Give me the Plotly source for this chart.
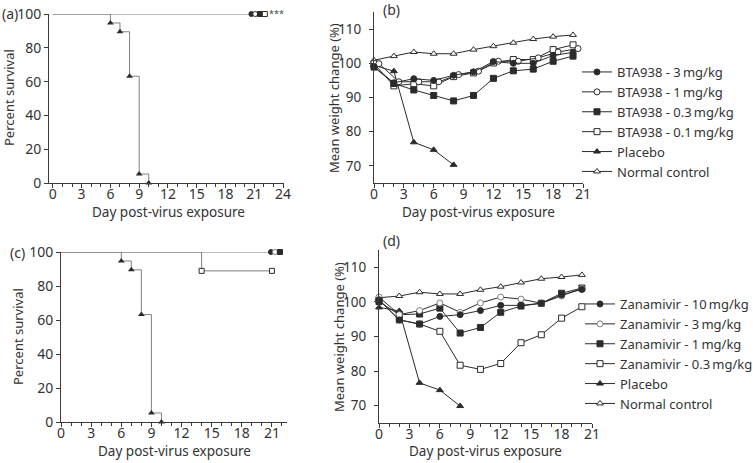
import plotly.graph_objects as go

W, H = 753, 463
FONT = "Noto Sans"

# ---- survival data (panels a and c) ----
placebo_days = [0, 6, 7, 8, 9, 10]
placebo_surv = [100, 94.7, 89.5, 63.2, 5.3, 0]

# BTA938 groups all 100% survival, markers nudged apart at the end
bta_end_days = [20.7, 21.1, 21.6, 22.1]
bta_end_surv = [100, 100, 100, 100]

# zanamivir groups
zan_end_days = [20.9, 21.3, 21.8]
zan_end_surv = [100, 100, 100]
zan03_days = [0, 14, 21.0]
zan03_surv = [100, 88.9, 88.9]

# ---- weight data (panels b and d) ----
days = [0, 2, 4, 6, 8, 10, 12, 14, 16, 18, 20]
days_offset = [d + 0.5 for d in days]
placebo_days_w = [0, 2, 4, 6, 8]

b_bta3 = [99.0, 94.3, 95.5, 95.0, 96.5, 97.5, 100.5, 100.0, 100.0, 102.3, 103.2]
b_bta1 = [99.9, 94.6, 94.6, 94.6, 96.7, 97.7, 100.6, 100.6, 101.6, 103.3, 104.3]
b_bta03 = [98.9, 94.1, 92.2, 90.6, 89.0, 90.6, 95.6, 97.8, 98.3, 100.6, 102.1]
b_bta01 = [99.9, 93.4, 94.0, 93.4, 96.1, 97.2, 100.1, 101.1, 101.1, 104.0, 105.4]
b_placebo = [99.4, 97.7, 76.9, 74.7, 70.3]
b_normal = [100.9, 102.1, 103.3, 102.8, 102.8, 104.0, 105.0, 106.0, 107.1, 107.8, 108.3]

d_zan10 = [100.6, 94.8, 93.6, 95.8, 96.3, 97.5, 99.0, 99.0, 99.6, 102.0, 103.6]
d_zan3 = [101.4, 96.3, 97.5, 99.7, 97.0, 99.7, 101.4, 100.8, 99.6, 101.7, 103.9]
d_zan1 = [100.1, 96.3, 96.5, 98.2, 91.0, 92.6, 97.0, 98.8, 99.6, 102.5, 104.0]
d_zan03 = [100.6, 94.8, 93.6, 91.5, 81.7, 80.5, 82.2, 88.2, 90.5, 95.3, 98.6]
d_placebo = [98.4, 97.4, 76.6, 74.5, 69.9]
d_normal = [101.2, 101.7, 102.8, 102.3, 102.3, 103.5, 104.4, 105.6, 106.7, 107.2, 107.8]

b_names = ["BTA938 - 3\u2009mg/kg", "BTA938 - 1\u2009mg/kg", "BTA938 - 0.3\u2009mg/kg",
           "BTA938 - 0.1\u2009mg/kg", "Placebo", "Normal control"]
d_names = ["Zanamivir - 10\u2009mg/kg", "Zanamivir - 3\u2009mg/kg", "Zanamivir - 1\u2009mg/kg",
           "Zanamivir - 0.3\u2009mg/kg", "Placebo", "Normal control"]

b_star_y = [106.3, 104.7, 103.1, 101.6]
d_star_y = [105.4, 103.7, 102.0, 98.2]

DARK = "#2b2b2b"
GREY = "#808080"
AXC = "#3a3a3a"

# marker styles: (symbol, fill, outline)
styles = [("circle", DARK, DARK), ("circle", "white", DARK), ("square", DARK, DARK),
          ("square", "white", DARK), ("triangle-up", DARK, DARK), ("triangle-up", "white", DARK)]


def px_x(p):
    return p / W


def px_y(p):
    return 1 - p / H


fig = go.Figure()

# ---------- panel (a) ----------
fig.add_trace(go.Scatter(x=[0, bta_end_days[-1]], y=[100, 100], mode="lines",
                         line=dict(color=GREY, width=1), xaxis="x", yaxis="y", showlegend=False))
fig.add_trace(go.Scatter(x=placebo_days, y=placebo_surv, mode="lines", line_shape="hv",
                         line=dict(color=GREY, width=1), xaxis="x", yaxis="y", showlegend=False))
fig.add_trace(go.Scatter(x=placebo_days[1:], y=placebo_surv[1:], mode="markers", cliponaxis=False,
                         marker=dict(symbol="triangle-up", size=6, color=DARK),
                         xaxis="x", yaxis="y", showlegend=False))
for i in range(4):
    sym, fill, edge = styles[i]
    fig.add_trace(go.Scatter(x=[bta_end_days[i]], y=[bta_end_surv[i]], mode="markers", cliponaxis=False,
                             marker=dict(symbol=sym, size=5, color=fill, line=dict(color=edge, width=1)),
                             xaxis="x", yaxis="y", showlegend=False))

# ---------- panel (c) ----------
fig.add_trace(go.Scatter(x=[0, zan_end_days[-1]], y=[100, 100], mode="lines",
                         line=dict(color=GREY, width=1), xaxis="x3", yaxis="y3", showlegend=False))
fig.add_trace(go.Scatter(x=zan03_days, y=zan03_surv, mode="lines", line_shape="hv",
                         line=dict(color=GREY, width=1), xaxis="x3", yaxis="y3", showlegend=False))
fig.add_trace(go.Scatter(x=zan03_days[1:], y=zan03_surv[1:], mode="markers",
                         marker=dict(symbol="square", size=5, color="white", line=dict(color=DARK, width=1)),
                         xaxis="x3", yaxis="y3", showlegend=False))
fig.add_trace(go.Scatter(x=placebo_days, y=placebo_surv, mode="lines", line_shape="hv",
                         line=dict(color=GREY, width=1), xaxis="x3", yaxis="y3", showlegend=False))
fig.add_trace(go.Scatter(x=placebo_days[1:], y=placebo_surv[1:], mode="markers", cliponaxis=False,
                         marker=dict(symbol="triangle-up", size=6, color=DARK),
                         xaxis="x3", yaxis="y3", showlegend=False))
zan_styles = [("circle", DARK, DARK), ("circle", "white", GREY), ("square", DARK, DARK)]
for i in range(3):
    sym, fill, edge = zan_styles[i]
    fig.add_trace(go.Scatter(x=[zan_end_days[i]], y=[zan_end_surv[i]], mode="markers", cliponaxis=False,
                             marker=dict(symbol=sym, size=5, color=fill, line=dict(color=edge, width=1)),
                             xaxis="x3", yaxis="y3", showlegend=False))

# ---------- panel (b) ----------
b_series = [(days, b_bta3), (days_offset, b_bta1), (days, b_bta03), (days, b_bta01),
            (placebo_days_w, b_placebo), (days, b_normal)]
order = [5, 4, 3, 2, 1, 0]
for i in order:
    xs, ys = b_series[i]
    sym, fill, edge = styles[i]
    fig.add_trace(go.Scatter(x=xs, y=ys, mode="lines+markers", name=b_names[i], cliponaxis=False,
                             line=dict(color=DARK, width=1),
                             marker=dict(symbol=sym, size=6, color=fill, line=dict(color=edge, width=1)),
                             xaxis="x2", yaxis="y2", legend="legend", legendrank=i))

# ---------- panel (d) ----------
d_styles = list(styles)
d_styles[1] = ("circle", "white", GREY)
d_series = [(days, d_zan10), (days, d_zan3), (days, d_zan1), (days, d_zan03),
            (placebo_days_w, d_placebo), (days, d_normal)]
for i in order:
    xs, ys = d_series[i]
    sym, fill, edge = d_styles[i]
    fig.add_trace(go.Scatter(x=xs, y=ys, mode="lines+markers", name=d_names[i], cliponaxis=False,
                             line=dict(color=DARK, width=1),
                             marker=dict(symbol=sym, size=6, color=fill, line=dict(color=edge, width=1)),
                             xaxis="x4", yaxis="y4", legend="legend2", legendrank=i))

tickfont = dict(family=FONT, size=14, color="#333")
wtickfont = dict(family=FONT, size=13.5, color="#333")


def xax(dom, rng, anchor):
    return dict(domain=dom, range=rng, anchor=anchor, dtick=3, tick0=0, automargin=False,
                ticks="outside", ticklen=4, tickwidth=1, tickcolor=AXC, ticklabelstandoff=-6,
                minor=dict(dtick=1, ticks="outside", ticklen=3, tickcolor=AXC),
                showline=True, linecolor=AXC, linewidth=1, showgrid=False, zeroline=False,
                tickfont=tickfont)


def yax(dom, rng, dtick, anchor, standoff, font):
    return dict(domain=dom, range=rng, anchor=anchor, dtick=dtick, tick0=0, automargin=False,
                ticks="outside", ticklen=4, tickwidth=1, tickcolor=AXC, ticklabelstandoff=standoff,
                showline=True, linecolor=AXC, linewidth=1, showgrid=False, zeroline=False,
                tickfont=font)


legend_font = dict(family=FONT, size=13, color="#333")
fig.update_layout(
    width=W, height=H, margin=dict(l=0, r=0, t=0, b=0, autoexpand=False),
    paper_bgcolor="white", plot_bgcolor="white",
    font=dict(family=FONT, color="#333"),
    xaxis=xax([px_x(49), px_x(284)], [-0.4, 24.1], "y"),
    yaxis=yax([px_y(183), px_y(14)], [0, 100], 20, "x", 0, tickfont),
    xaxis2=xax([px_x(374), px_x(583)], [0, 21], "y2"),
    yaxis2=yax([px_y(183), px_y(12)], [65, 115], 10, "x2", 5, wtickfont),
    xaxis3=xax([px_x(61), px_x(287)], [0, 22.5], "y3"),
    yaxis3=yax([px_y(422), px_y(252)], [0, 100], 20, "x3", 0, tickfont),
    xaxis4=xax([px_x(379), px_x(592)], [0, 21], "y4"),
    yaxis4=yax([px_y(423), px_y(250)], [65, 115], 10, "x4", 5, wtickfont),
    legend=dict(x=px_x(577), y=px_y(57), xanchor="left", yanchor="top", itemwidth=30,
                font=legend_font, bgcolor="rgba(0,0,0,0)", tracegroupgap=0),
    legend2=dict(x=px_x(580), y=px_y(289), xanchor="left", yanchor="top", itemwidth=30,
                 font=legend_font, bgcolor="rgba(0,0,0,0)", tracegroupgap=0),
)

# axis titles
title_font = dict(family=FONT, size=13.5, color="#333")
ytitle_font = dict(family=FONT, size=13, color="#333")
for xp, yp in [(168, 212), (478, 212), (174, 451), (485, 451)]:
    fig.add_annotation(x=px_x(xp), y=px_y(yp), xref="paper", yref="paper", text="Day post-virus exposure",
                       xanchor="center", yanchor="middle", showarrow=False, font=title_font)
for xp, yp in [(9, 98), (18, 337)]:
    fig.add_annotation(x=px_x(xp), y=px_y(yp), xref="paper", yref="paper", text="Percent survival",
                       xanchor="center", yanchor="middle", textangle=-90, showarrow=False, font=ytitle_font)
for xp, yp in [(334, 98), (339, 337)]:
    fig.add_annotation(x=px_x(xp), y=px_y(yp), xref="paper", yref="paper", text="Mean weight change (%)",
                       xanchor="center", yanchor="middle", textangle=-90, showarrow=False, font=ytitle_font)

# significance stars
star_font = dict(family=FONT, size=9, color="#444")
fig.add_annotation(x=23.3, y=100, xref="x", yref="y", text="***", showarrow=False, font=star_font)
fig.add_annotation(x=23.0, y=100, xref="x3", yref="y3", text="***", showarrow=False, font=star_font)
fig.add_annotation(x=23.0, y=88.9, xref="x3", yref="y3", text="***", showarrow=False, font=star_font)
for yv in b_star_y:
    fig.add_annotation(x=22.1, y=yv, xref="x2", yref="y2", text="***", showarrow=False, font=star_font)
for yv in d_star_y:
    fig.add_annotation(x=21.4, y=yv, xref="x4", yref="y4", text="***", showarrow=False, font=star_font)

# panel letters
letter_font = dict(family=FONT, size=14, color="#333")
for txt, xp, yp in [("(a)", 10, 14), ("(b)", 391, 9), ("(c)", 17, 252), ("(d)", 391, 241)]:
    fig.add_annotation(x=px_x(xp), y=px_y(yp), xref="paper", yref="paper", text=txt,
                       xanchor="center", yanchor="middle", showarrow=False, font=letter_font)

fig.write_html("out.html", config={"displayModeBar": False},
               post_script="document.body.style.margin='0';")
